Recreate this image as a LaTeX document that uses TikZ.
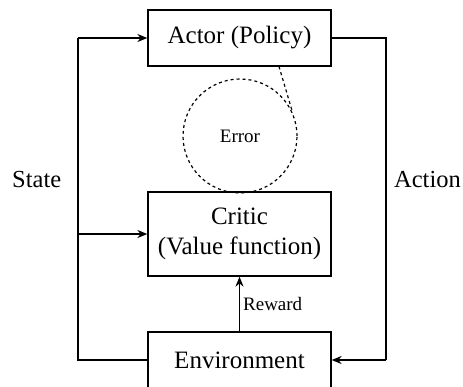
\documentclass[tikz,border=0pt]{standalone}
\usepackage{fontspec}
\setmainfont{Liberation Serif}
\usetikzlibrary{arrows.meta}
\begin{document}
\begin{tikzpicture}[x=1pt,y=-1pt,
  blk/.style={draw,line width=1.3pt,minimum width=183pt,inner sep=0pt,align=center,font=\fontsize{25}{30}\selectfont},
  conn/.style={line width=1.3pt,-{Stealth[length=10pt,width=8pt]}},
  plain/.style={line width=1.3pt},
  lbl/.style={font=\fontsize{24.5}{30}\selectfont,inner sep=0pt}]
\useasboundingbox (0,0) rectangle (463,386);
\node[blk,minimum height=56pt] (actor) at (239.5,38) {Actor (Policy)};
\node[blk,minimum height=84pt] (critic) at (239.5,234) {Critic\\(Value function)};
\node[blk,minimum height=56pt] (env) at (239.5,360) {Environment};
\node[draw,circle,dashed,line width=1.2pt,minimum size=114pt,inner sep=0pt,font=\fontsize{19}{22}\selectfont] (err) at (240,136) {Error};
\coordinate (ls) at (279,66.5);
\draw[dashed,line width=1.2pt] (ls) -- (err.24);
\coordinate (L) at (78,0);
\coordinate (R) at (386,0);
\draw[plain] (env.west) -| (L |- actor.west);
\draw[conn] (L |- actor.west) -- (actor.west);
\draw[conn] (L |- critic.west) -- (critic.west);
\draw[plain] (actor.east) -| (R |- env.east);
\draw[conn] (R |- env.east) -- (env.east);
\draw[conn] (env.north) -- node[right,font=\fontsize{19}{22}\selectfont,inner sep=3pt] {Reward} (critic.south);
\node[lbl,anchor=west] (state) at (12,180) {State};
\node[lbl,anchor=east] (action) at (461,180) {Action};
\end{tikzpicture}
\end{document}
